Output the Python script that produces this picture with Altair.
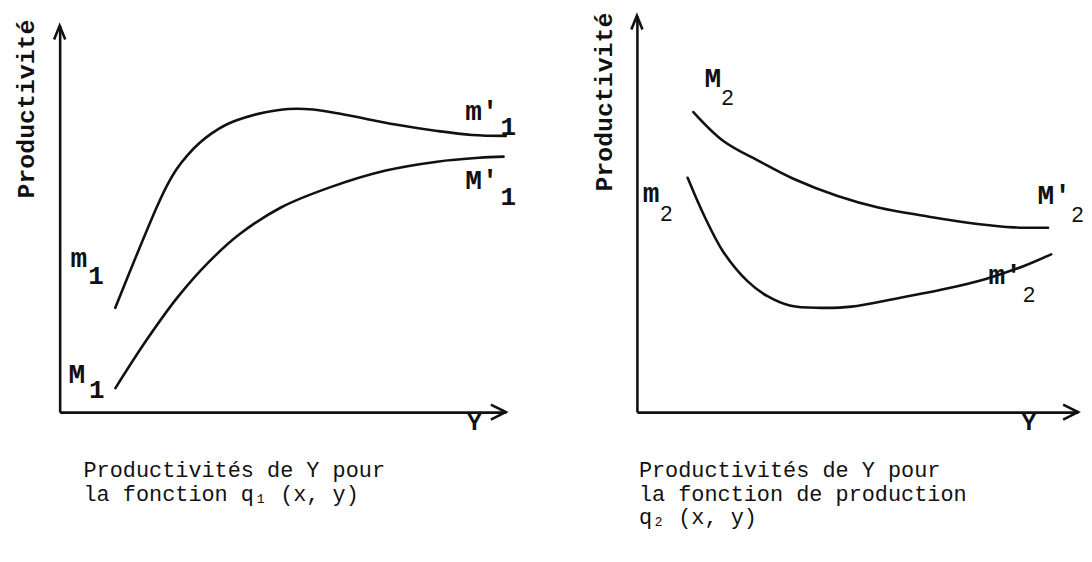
import altair as alt
import pandas as pd

# ---------------- data ----------------
# Left panel: productivities of Y for the function q1(x, y)
L_UP_X = [12.47, 17.15, 21.83, 24.05, 26.28, 28.73, 31.40, 34.08, 37.19, 41.20, 45.88,
          51.22, 56.79, 63.70, 75.28, 84.63, 92.43, 100.0]
L_UP_Y = [26.99, 40.36, 53.21, 58.61, 62.98, 66.58, 69.67, 72.11, 74.29, 76.09, 77.51,
          78.41, 78.28, 76.99, 74.42, 72.75, 71.72, 71.47]
L_LO_X = [12.5, 19.4, 26.5, 33.4, 40.3, 49.7, 61.2, 73.1, 84.6, 94.0, 99.5]
L_LO_Y = [6.2, 18.5, 29.8, 38.8, 46.0, 53.0, 58.4, 62.5, 64.8, 65.8, 66.1]

L_LAB = ["m", "M", "m'", "M'"]
L_LAB_X = [2.45, 2.0, 90.9, 90.9]
L_LAB_Y = [37.5, 7.46, 75.6, 57.8]
L_SUB = ["1", "1", "1", "1"]
L_SUB_X = [6.4, 6.6, 98.8, 98.8]
L_SUB_Y = [33.2, 3.6, 71.7, 53.7]

# Right panel: productivities of Y for the production function q2(x, y)
R_UP_X = [12.8, 19.6, 27.9, 35.6, 45.5, 54.7, 66.2, 77.7, 85.4, 93.2]
R_UP_Y = [75.7, 68.4, 63.2, 58.8, 54.5, 51.6, 49.3, 47.4, 46.6, 46.5]
R_LO_X = [11.5, 15.1, 19.6, 25.0, 29.5, 34.9, 41.7, 48.6, 58.6, 70.0, 79.1, 87.6, 93.9]
R_LO_Y = [59.1, 49.9, 40.4, 33.1, 29.3, 26.8, 26.3, 26.6, 28.6, 31.1, 33.6, 36.8, 39.8]

R_LAB = ["M", "m", "M'", "m'"]
R_LAB_X = [15.3, 1.35, 90.8, 79.7]
R_LAB_Y = [82.0, 52.9, 52.4, 32.3]
R_SUB = ["2", "2", "2", "2"]
R_SUB_X = [19.2, 5.3, 98.5, 87.5]
R_SUB_Y = [77.4, 48.1, 47.9, 27.8]

L_CAPTION = ["Productivités de Y pour", "la fonction q₁ (x, y)"]
R_CAPTION = ["Productivités de Y pour", "la fonction de production", "q₂ (x, y)"]
Y_TITLE = "Productivité"
X_TITLE = "Y"

DOMAIN = [0, 100]

# ---------------- styling ----------------
INK = "#111111"
MONO = "Liberation Mono"
SANS = "Liberation Sans"
UP_ARROW = "M-0.4,1L0,0L0.4,1"
RIGHT_ARROW = "M-1,-0.5L0,0L-1,0.5"


def curves_df(up_x, up_y, lo_x, lo_y):
    rows = []
    for name, xs, ys in (("upper", up_x, up_y), ("lower", lo_x, lo_y)):
        for i, (a, b) in enumerate(zip(xs, ys)):
            rows.append({"curve": name, "i": i, "x": a, "y": b})
    return pd.DataFrame(rows)


def panel(up_x, up_y, lo_x, lo_y, lab, lab_x, lab_y, sub, sub_x, sub_y,
          caption, width, height, yrange, ytitle_y, xtitle_x, xtitle_y,
          sub_font, sub_size, sub_weight, cap_dx):
    yscale_kw = {"domain": DOMAIN}
    if yrange is not None:
        yscale_kw["range"] = yrange
    X = alt.X("x:Q", scale=alt.Scale(domain=DOMAIN),
              axis=alt.Axis(title=X_TITLE, domain=True, domainColor=INK,
                            domainWidth=2.6, ticks=False, labels=False, grid=False,
                            titleFont=MONO, titleFontSize=24, titleFontWeight="bold",
                            titleColor=INK, titleAlign="center", titleBaseline="top",
                            titleX=xtitle_x, titleY=xtitle_y))
    Y = alt.Y("y:Q", scale=alt.Scale(**yscale_kw),
              axis=alt.Axis(title=Y_TITLE, domain=True, domainColor=INK,
                            domainWidth=2.6, ticks=False, labels=False, grid=False,
                            titleFont=MONO, titleFontSize=25, titleFontWeight="bold",
                            titleColor=INK, titleAngle=270, titleAlign="center",
                            titleBaseline="alphabetic", titleX=-26, titleY=ytitle_y))

    cdf = curves_df(up_x, up_y, lo_x, lo_y)
    lines = alt.Chart(cdf).mark_line(
        interpolate="catmull-rom", color=INK, strokeWidth=2.6, strokeCap="round"
    ).encode(x=X, y=Y, detail="curve:N", order="i:Q")

    up = alt.Chart(pd.DataFrame({"x": [DOMAIN[0]], "y": [DOMAIN[1]]})).mark_point(
        shape=UP_ARROW, filled=False, size=784, strokeWidth=2.6, color=INK, opacity=1
    ).encode(x=X, y=Y)
    right = alt.Chart(pd.DataFrame({"x": [DOMAIN[1]], "y": [DOMAIN[0]]})).mark_point(
        shape=RIGHT_ARROW, filled=False, size=900, strokeWidth=2.6, color=INK, opacity=1
    ).encode(x=X, y=Y)

    base = alt.Chart(pd.DataFrame({"t": lab, "x": lab_x, "y": lab_y})).mark_text(
        font=MONO, fontWeight="bold", fontSize=28, align="left",
        baseline="alphabetic", color=INK
    ).encode(x=X, y=Y, text="t:N")
    subs = alt.Chart(pd.DataFrame({"t": sub, "x": sub_x, "y": sub_y})).mark_text(
        font=sub_font, fontWeight=sub_weight, fontSize=sub_size, align="left",
        baseline="alphabetic", color=INK
    ).encode(x=X, y=Y, text="t:N")

    return alt.layer(lines, up, right, base, subs).properties(
        width=width, height=height,
        title=alt.TitleParams(text=caption, orient="bottom", anchor="start",
                              frame="group", font=MONO, fontSize=22,
                              fontWeight="normal", lineHeight=24, color=INK,
                              dx=cap_dx, offset=25),
    )


left = panel(L_UP_X, L_UP_Y, L_LO_X, L_LO_Y, L_LAB, L_LAB_X, L_LAB_Y,
             L_SUB, L_SUB_X, L_SUB_Y, L_CAPTION, 449, 399, [399, 10], 93.5, 417, -1,
             MONO, 26, "bold", 24)
right = panel(R_UP_X, R_UP_Y, R_LO_X, R_LO_Y, R_LAB, R_LAB_X, R_LAB_Y,
              R_SUB, R_SUB_X, R_SUB_Y, R_CAPTION, 444, 399, None, 86.5, 394, -1,
              SANS, 22, "normal", 2)

chart = alt.hconcat(left, right, spacing=132, bounds="flush").configure_view(
    stroke=None
).properties(
    padding={"left": 5, "top": 0, "right": 0, "bottom": 10},
    background="white",
)

chart.save("out.html", embed_options={"renderer": "svg", "actions": False})
